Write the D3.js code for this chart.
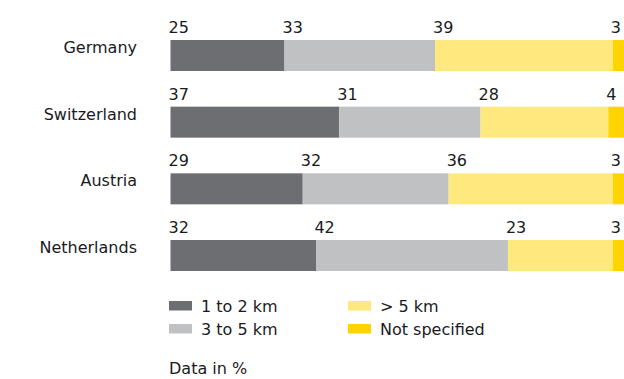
<!DOCTYPE html>
<html>
<head>
<meta charset="utf-8">
<script src="https://cdn.jsdelivr.net/npm/d3@7"></script>
<style>
  html, body { margin: 0; padding: 0; background: #fff; }
  svg { display: block; }
  text { font-family: "DejaVu Sans", sans-serif; fill: #1a1a24; }
</style>
</head>
<body>
<svg id="chart" width="624" height="379"></svg>
<script>
// Distance categories and their shares (%) per country
const countries = ["Germany", "Switzerland", "Austria", "Netherlands"];
const seriesNames = ["1 to 2 km", "3 to 5 km", "> 5 km", "Not specified"];
const seriesColors = ["#6d6e71", "#c0c1c3", "#ffe97f", "#ffd400"];
const oneToTwo = [25, 37, 29, 32];
const threeToFive = [33, 31, 32, 42];
const overFive = [39, 28, 36, 23];
const notSpecified = [3, 4, 3, 3];
const footnote = "Data in %";

const rows = countries.map((c, i) => ({
  country: c,
  values: [oneToTwo[i], threeToFive[i], overFive[i], notSpecified[i]]
}));

const svg = d3.select("#chart");

const x = d3.scaleLinear().domain([0, 100]).range([170.5, 626.5]);
const y = d3.scaleBand().domain(countries).range([40, 271]).paddingInner(0.535);

const bar = svg.append("g").selectAll("g.row")
  .data(rows)
  .join("g")
  .attr("class", "row");

bar.each(function (d) {
  const g = d3.select(this);
  const segs = [];
  let acc = 0;
  d.values.forEach((v, k) => { segs.push({ start: acc, end: acc + v, v, k }); acc += v; });

  g.selectAll("rect")
    .data(segs)
    .join("rect")
    .attr("x", s => x(s.start))
    .attr("y", y(d.country))
    .attr("width", s => x(s.end) - x(s.start))
    .attr("height", y.bandwidth())
    .attr("fill", s => seriesColors[s.k]);

  // value labels sit above the start of each segment
  g.selectAll("text.val")
    .data(segs)
    .join("text")
    .attr("class", "val")
    .attr("x", s => x(s.start) - 2)
    .attr("y", y(d.country) - 7)
    .attr("font-size", 16)
    .text(s => s.v);

  g.append("text")
    .attr("x", 137)
    .attr("y", y(d.country) + 13)
    .attr("text-anchor", "end")
    .attr("font-size", 16)
    .text(d.country);
});

// Legend: two columns, two rows
const legend = svg.append("g");
const legendPos = [[169, 301], [169, 324], [348, 301], [348, 324]];
seriesNames.forEach((name, k) => {
  const [lx, ly] = legendPos[k];
  legend.append("rect")
    .attr("x", lx).attr("y", ly)
    .attr("width", 23).attr("height", 9.5)
    .attr("fill", seriesColors[k]);
  legend.append("text")
    .attr("x", lx + 32).attr("y", ly + 10.5)
    .attr("font-size", 16)
    .text(name);
});

svg.append("text")
  .attr("x", 169).attr("y", 374)
  .attr("font-size", 16)
  .text(footnote);
</script>
</body>
</html>
